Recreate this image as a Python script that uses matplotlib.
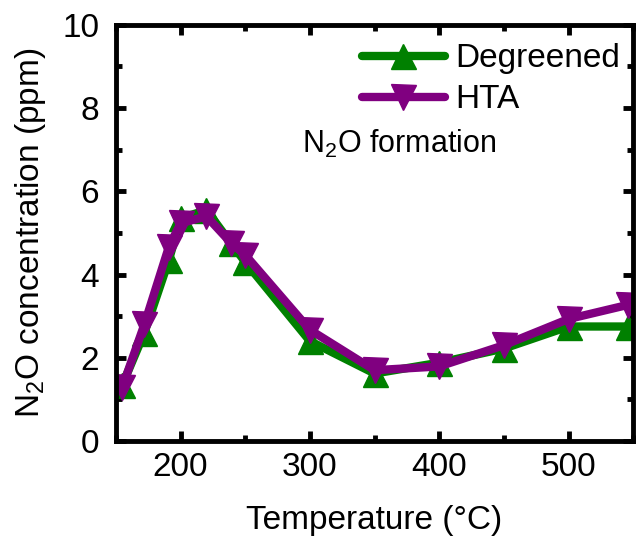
import numpy as np
import matplotlib.pyplot as plt
from matplotlib.ticker import MultipleLocator

plt.rcParams['font.family'] = ['Liberation Sans', 'DejaVu Sans']
plt.rcParams['mathtext.fontset'] = 'custom'
plt.rcParams['mathtext.rm'] = 'Liberation Sans'

# N2O formation vs temperature
temp = [155, 172, 191, 200, 220, 239, 250, 300, 350, 400, 450, 500, 546]
degreened = [1.35, 2.6, 4.35, 5.35, 5.55, 4.75, 4.3, 2.4, 1.62, 1.88, 2.22, 2.75, 2.75]
hta = [1.3, 2.8, 4.67, 5.23, 5.4, 4.76, 4.47, 2.67, 1.7, 1.79, 2.3, 2.93, 3.27]

fig = plt.figure(figsize=(6.37, 5.41), dpi=100)
ax = fig.add_axes([0.182, 0.185, 0.812, 0.769])

ax.plot(temp, degreened, color='#008000', lw=6, marker='^', ms=18,
        label='Degreened', solid_joinstyle='round', solid_capstyle='round')
ax.plot(temp, hta, color='#800080', lw=6, marker='v', ms=18,
        label='HTA', solid_joinstyle='round', solid_capstyle='round')

ax.set_xlim(150, 550)
ax.set_ylim(0, 10)
ax.xaxis.set_major_locator(MultipleLocator(100))
ax.xaxis.set_minor_locator(MultipleLocator(50))
ax.yaxis.set_major_locator(MultipleLocator(2))
ax.yaxis.set_minor_locator(MultipleLocator(1))

for s in ax.spines.values():
    s.set_linewidth(3.5)
ax.tick_params(which='both', direction='in', top=True, right=True, labelsize=24, width=3.5)
ax.tick_params(which='major', length=7)
ax.tick_params(which='minor', length=4)
ax.tick_params(axis='x', pad=8)
ax.tick_params(axis='y', pad=12)

ax.set_xlabel('Temperature (°C)', fontsize=24, labelpad=16)
ax.set_ylabel('N$_2$O concentration (ppm)', fontsize=24, labelpad=10)

ax.text(0.36, 0.692, 'N$_2$O formation', transform=ax.transAxes,
        fontsize=22, ha='left', va='baseline')

leg = ax.legend(loc='upper right', bbox_to_anchor=(1.0, 0.988), fontsize=24,
                frameon=False, handlelength=2.5, borderaxespad=0.0,
                labelspacing=0.3, handletextpad=0.3)

fig.savefig('out.png', dpi=100)
